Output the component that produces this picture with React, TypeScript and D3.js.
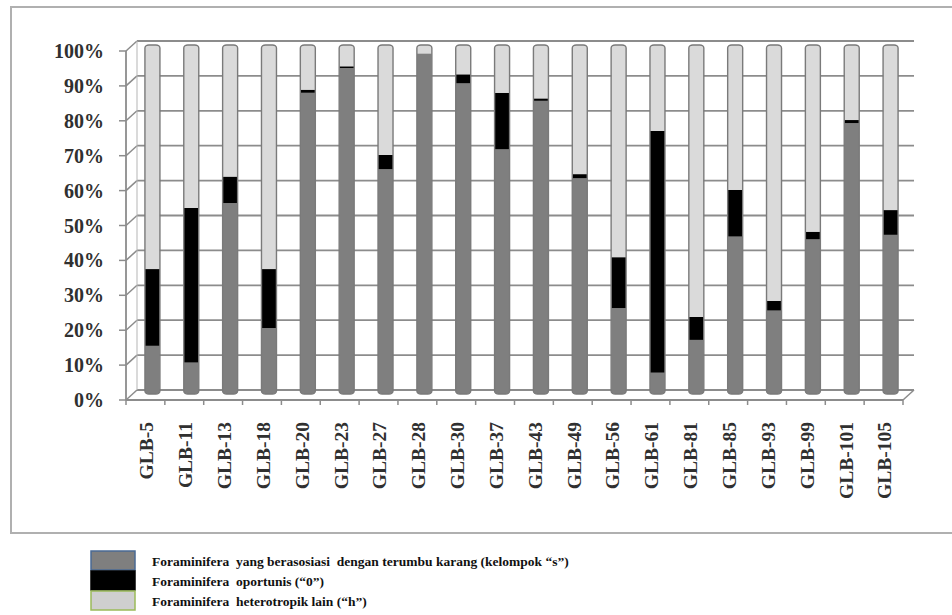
import React from "react";
import * as d3 from "d3";

const categories = ["GLB-5","GLB-11","GLB-13","GLB-18","GLB-20","GLB-23","GLB-27","GLB-28","GLB-30","GLB-37","GLB-43","GLB-49","GLB-56","GLB-61","GLB-81","GLB-85","GLB-93","GLB-99","GLB-101","GLB-105"];
const seriesS = [13.8, 9.0, 54.7, 18.9, 86.3, 93.4, 64.4, 97.6, 89.0, 70.1, 84.0, 61.8, 24.6, 6.1, 15.5, 45.1, 23.9, 44.3, 77.6, 45.6];
const seriesO = [22.0, 44.3, 7.6, 16.9, 0.9, 0.5, 4.1, 0.0, 2.6, 16.2, 0.7, 1.2, 14.6, 69.3, 6.6, 13.4, 2.8, 2.2, 0.9, 7.1];
const seriesH = seriesS.map((s, i) => 100 - s - seriesO[i]);
const yTicks = [0, 10, 20, 30, 40, 50, 60, 70, 80, 90, 100];
const legendLabels = [
  "Foraminifera  yang berasosiasi  dengan terumbu karang (kelompok \u201cs\u201d)",
  "Foraminifera  oportunis (\u201c0\u201d)",
  "Foraminifera  heterotropik lain (\u201ch\u201d)",
];

const W = 952, H = 615;
const DX = 11, DY = -10;
const GRID = "#8c8c8c";
const FONT = "'Liberation Serif', 'Times New Roman', serif";

export default function App() {
  const x = d3.scaleBand<string>().domain(categories).range([126, 903]).padding(0);
  const yFront = d3.scaleLinear().domain([0, 100]).range([400, 51]);
  const yBar = d3.scaleLinear().domain([0, 100]).range([394, 45]);
  const bw = 15;
  const barOffset = 7;
  const stack = d3.stack<any>().keys(["s", "o", "h"])(
    categories.map((c, i) => ({ c, s: seriesS[i], o: seriesO[i], h: seriesH[i] }))
  );
  const fills: Record<string, string> = { s: "#7f7f7f", o: "#000000", h: "#dadada" };
  const x0 = x.range()[0], x1 = x.range()[1];
  const legendFill = ["#7f7f7f", "#000000", "#cfcfcf"];
  const legendStroke = ["#4a6a94", "#000000", "#9bbb59"];

  return (
    <svg width={W} height={H} style={{ position: "absolute", left: 0, top: 0, background: "#fff" }}>
      <rect x={11} y={7} width={950} height={526} fill="#fff" stroke="#b0b0b0" strokeWidth={2} />
      {yTicks.map((t) => (
        <g key={"g" + t}>
          <line x1={x0 + DX} x2={x1 + DX} y1={yFront(t) + DY} y2={yFront(t) + DY} stroke={GRID} strokeWidth={1.8} />
          <line x1={x0} x2={x0 + DX} y1={yFront(t)} y2={yFront(t) + DY} stroke={GRID} strokeWidth={1.5} />
          <line x1={x0 - 7} x2={x0} y1={yFront(t)} y2={yFront(t)} stroke={GRID} strokeWidth={1.5} />
          <text x={104} y={yFront(t)} dy="0.35em" textAnchor="end" fontFamily={FONT} fontWeight="bold" fontSize={20} fill="#303030">
            {t + "%"}
          </text>
        </g>
      ))}
      <line x1={x0 + DX} x2={x0 + DX} y1={yFront(100) + DY} y2={yFront(0) + DY} stroke="#b5b5b5" strokeWidth={1} />
      <line x1={x0} x2={x0} y1={yFront(100)} y2={yFront(0)} stroke={GRID} strokeWidth={1.8} />
      <line x1={x0} x2={x1} y1={yFront(0)} y2={yFront(0)} stroke={GRID} strokeWidth={1.8} />
      <line x1={x1} x2={x1 + DX} y1={yFront(0)} y2={yFront(0) + DY} stroke={GRID} strokeWidth={1.5} />
      {categories.map((c) => (
        <line key={"t" + c} x1={x(c)!} x2={x(c)!} y1={yFront(0)} y2={yFront(0) + 5} stroke={GRID} strokeWidth={1.5} />
      ))}
      <line x1={x1} x2={x1} y1={yFront(0)} y2={yFront(0) + 5} stroke={GRID} strokeWidth={1.5} />
      <defs>
        {categories.map((c, i) => (
          <clipPath key={"cp" + c} id={"clip" + i}>
            <rect x={x(c)! + x.bandwidth() / 2 + barOffset - bw / 2} y={yBar(100)} width={bw} height={yBar(0) - yBar(100)} rx={4} ry={3} />
          </clipPath>
        ))}
      </defs>
      {categories.map((c, i) => {
        const bx = x(c)! + x.bandwidth() / 2 + barOffset - bw / 2;
        return (
          <g key={"b" + c}>
            <g clipPath={`url(#clip${i})`}>
              {stack.map((layer) => {
                const [a, b] = layer[i];
                return (
                  <rect key={layer.key} x={bx} y={yBar(b)} width={bw} height={Math.max(0, yBar(a) - yBar(b))} fill={fills[layer.key]} />
                );
              })}
            </g>
            <rect x={bx} y={yBar(100)} width={bw} height={yBar(0) - yBar(100)} rx={4} ry={3} fill="none" stroke="#7a7a7a" strokeWidth={1.4} />
          </g>
        );
      })}
      {categories.map((c) => {
        const cx = x(c)! + x.bandwidth() / 2 + 1;
        return (
          <text key={"l" + c} transform={`translate(${cx},422) rotate(-90)`} dy="0.35em" textAnchor="end" fontFamily={FONT} fontWeight="bold" fontSize={19.5} fill="#303030">
            {c}
          </text>
        );
      })}
      {legendLabels.map((l, i) => (
        <g key={"lg" + i}>
          <rect x={91} y={551 + i * 20} width={44} height={19} fill={legendFill[i]} stroke={legendStroke[i]} strokeWidth={1.5} />
          <text x={152} y={561 + i * 20} dy="0.35em" fontFamily={FONT} fontWeight="bold" fontSize={13.5} fill="#111" style={{ whiteSpace: "pre" }}>
            {l}
          </text>
        </g>
      ))}
    </svg>
  );
}
